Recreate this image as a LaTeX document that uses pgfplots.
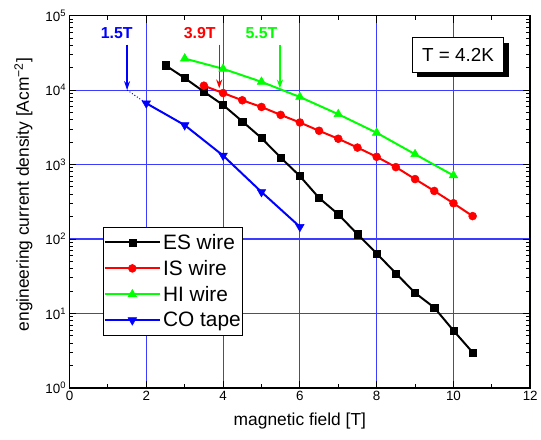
\documentclass[border=0pt]{standalone}
\usepackage{fontspec}
\setmainfont{Liberation Sans}
\usepackage{pgfplots}
\pgfplotsset{compat=1.18}
\usetikzlibrary{arrows.meta,shadows}
\definecolor{hgreen}{RGB}{0,255,0}
\definecolor{gridblue}{RGB}{60,60,255}
\begin{document}
\begin{tikzpicture}
\begin{axis}[
  name=ax,
  scale only axis, width=464pt, height=375pt,
  xmin=0, xmax=12, ymode=log, ymin=1, ymax=1e5,
  xtick={0,2,...,12}, minor xtick={1,3,...,11},
  ytick={1,10,100,1000,10000,100000},
  yticklabels={10\textsuperscript{0},10\textsuperscript{1},10\textsuperscript{2},10\textsuperscript{3},10\textsuperscript{4},10\textsuperscript{5}},
  xmajorgrids, ymajorgrids,
  grid style={gridblue, line width=1.1pt},
  major grid style={gridblue, line width=1.1pt},
  axis line style={line width=1.6pt},
  every tick/.append style={black, line width=1pt},
  major tick length=7pt, minor tick length=4pt,
  tick align=inside,
  /pgf/number format/assume math mode=true,
  tick label style={font=\fontsize{13.5}{16}\selectfont},
  label style={font=\fontsize{17.5}{20}\selectfont},
  xlabel={magnetic field [T]},
  ylabel={engineering current density [Acm\textsuperscript{−2}]},
  xlabel shift=5pt, ylabel shift=6pt,
  ylabel style={at={(ticklabel cs:0.519)}},
  legend style={at={(rel axis cs:0.073,0.433)}, anchor=north west,
    font=\fontsize{21}{25}\selectfont, draw=black, line width=0.8pt,
    inner xsep=0pt, inner ysep=5pt, cells={anchor=west},
    nodes={inner sep=2pt}, row sep=5.5pt},
  legend image code/.code={\draw[line width=2pt, mark repeat=2,mark phase=2] plot coordinates {(0pt,0pt)(28pt,0pt)(56pt,0pt)};},
]
\addplot[black, line width=2pt, mark=square*, mark size=3.6pt, mark options={solid, line width=0.5pt}] coordinates {
(2.5,21500)(3.0,14500)(3.5,9500)(4.0,6300)(4.5,3800)(5.0,2270)(5.5,1240)(6.0,700)
(6.5,356)(7.0,215)(7.5,116)(8.0,64)(8.5,34.6)(9.0,18.9)(9.5,12)(10.0,5.9)(10.5,3.0)};
\addlegendentry{ES wire}
\addplot[red, line width=2pt, mark=*, mark size=4pt, mark options={line width=0.5pt}] coordinates {
(3.5,11450)(4.0,9120)(4.5,7290)(5.0,5930)(5.5,4640)(6.0,3670)(6.5,2840)(7.0,2220)
(7.5,1690)(8.0,1270)(8.5,923)(9.0,638)(9.5,442)(10.0,302)(10.5,203)};
\addlegendentry{IS wire}
\addplot[hgreen, line width=2pt, mark=triangle*, mark size=5pt, mark options={line width=0.5pt}] coordinates {
(3,26500)(4,19300)(5,12900)(6,8070)(7,4740)(8,2670)(9,1375)(10,713)};
\addlegendentry{HI wire}
\addplot[blue, line width=2pt, mark=triangle*, mark size=5pt, mark options={rotate=180, line width=0.5pt}] coordinates {
(2,6650)(3,3380)(4,1320)(5,428)(6,146)};
\addlegendentry{CO tape}
\addplot[blue, dotted, line width=1pt, forget plot] coordinates {(1.5,10000)(2,6650)};
\draw[blue, line width=1.5pt, -{Stealth[length=9pt,width=6pt]}] (axis cs:1.5,40600) -- (axis cs:1.5,10000);
\draw[red, line width=1.5pt, -{Stealth[length=9pt,width=6pt]}] (axis cs:3.9,40600) -- (axis cs:3.9,10500);
\draw[hgreen, line width=1.5pt, -{Stealth[length=9pt,width=6pt]}] (axis cs:5.48,40600) -- (axis cs:5.48,10500);
\node[blue, font=\bfseries\fontsize{16}{19}\selectfont] at (axis cs:1.23,58800) {1.5T};
\node[red, font=\bfseries\fontsize{16}{19}\selectfont] at (axis cs:3.39,58800) {3.9T};
\node[hgreen, font=\bfseries\fontsize{16}{19}\selectfont] at (axis cs:5.0,58800) {5.5T};
\node[draw=black, fill=white, line width=0.8pt, minimum width=92pt, minimum height=35pt,
  font=\fontsize{19}{22}\selectfont,
  drop shadow={shadow xshift=5pt, shadow yshift=-5pt, fill=black, opacity=1}]
  at (axis cs:10.12,29500) {T = 4.2K};
\end{axis}
\path (ax.south west) +(-70pt,-52.3pt);
\path (ax.north east) +(7pt,15.7pt);
\end{tikzpicture}
\end{document}
